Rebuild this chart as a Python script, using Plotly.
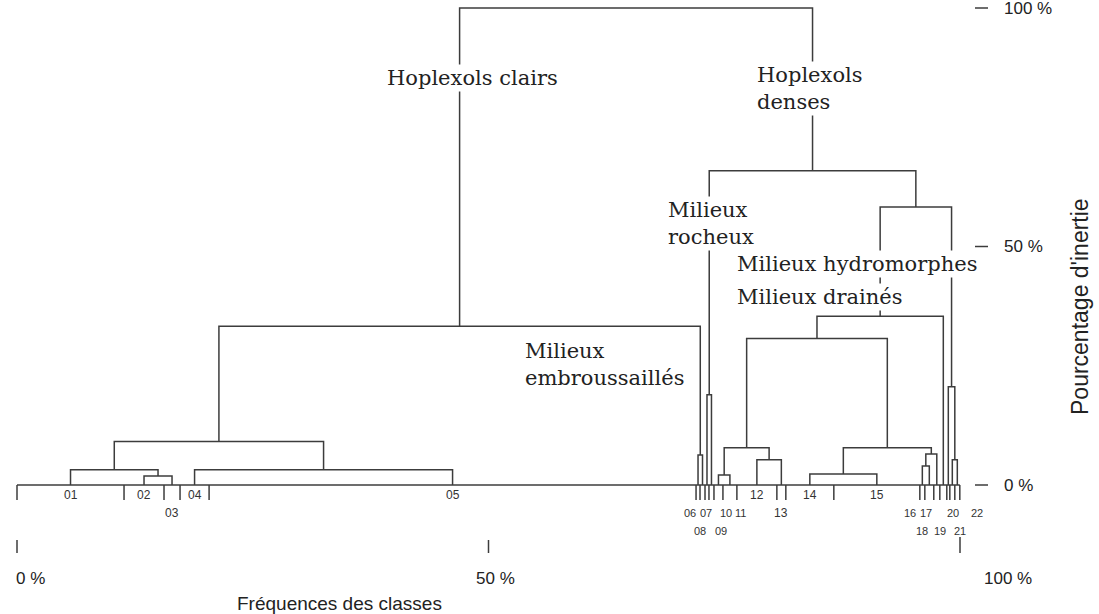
import plotly.graph_objects as go

# ---- data -------------------------------------------------------------
classes = ["01", "02", "03", "04", "05", "06", "07", "08", "09", "10", "11",
           "12", "13", "14", "15", "16", "17", "18", "19", "20", "21", "22"]

# class frequencies (% of the total), in dendrogram order
class_freq = [11.35, 4.24, 1.70, 3.08, 51.64, 0.42, 0.53, 0.42, 0.53, 0.95, 1.48,
              4.24, 0.95, 5.09, 9.12, 0.53, 0.95, 0.64, 0.74, 0.32, 0.53, 0.53]

# agglomeration steps: (member A, member B, inertia %) ; ints refer to earlier steps
merges = [
    ("02", "03", 1.9),
    ("01", 0, 3.2),
    ("04", "05", 3.2),
    (1, 2, 9.1),
    ("06", "07", 6.3),
    (3, 4, 33.3),
    ("08", "09", 18.9),
    ("10", "11", 2.1),
    ("12", "13", 5.3),
    (7, 8, 7.8),
    ("14", "15", 2.3),
    ("16", "17", 4.0),
    (11, "18", 6.5),
    (10, 12, 7.8),
    (9, 13, 30.7),
    (14, "19", 35.4),
    ("21", "22", 5.3),
    ("20", 16, 20.6),
    (15, 17, 58.3),
    (6, 18, 65.9),
    (5, 19, 100.0),
]

group_names = ["Hoplexols clairs", "Hoplexols<br>denses", "Milieux<br>rocheux",
               "Milieux<br>embroussaillés", "Milieux hydromorphes", "Milieux drainés"]

x_ticks = [0, 50, 100]
x_tick_text = ["0 %", "50 %", "100 %"]
y_ticks = [0, 50, 100]
y_tick_text = ["0 %", "50 %", "100 %"]

# ---- page geometry (pixels -> data units) ------------------------------
W, H = 1099, 614
X0_PX, PX_PER_PCT_X = 17.0, 9.43      # 0 % frequency at x=17 px
Y0_PX, PX_PER_PCT_Y = 485.0, 4.77     # 0 % inertia at y=485 px


def dy(px):
    """vertical pixel length -> inertia units"""
    return px / PX_PER_PCT_Y


def at_x(px):
    """absolute page x (px) -> frequency units"""
    return (px - X0_PX) / PX_PER_PCT_X


def at_y(py):
    """absolute page y (px) -> inertia units"""
    return (Y0_PX - py) / PX_PER_PCT_Y


x_range = [at_x(0), at_x(W)]
y_range = [at_y(H), at_y(0)]

LINE = "#3c3c3c"
SERIF = "DejaVu Serif, serif"
SANS = "Liberation Sans, Arial, sans-serif"

# ---- class positions ---------------------------------------------------
bounds = [0.0]
for f in class_freq:
    bounds.append(bounds[-1] + f)
leaf_x = {c: (bounds[i] + bounds[i + 1]) / 2 for i, c in enumerate(classes)}

node_x, node_h = [], []


def pos(m):
    if isinstance(m, str):
        return leaf_x[m], 0.0
    return node_x[m], node_h[m]


xs, ys = [], []
for a, b, h in merges:
    xa, ha = pos(a)
    xb, hb = pos(b)
    xs += [xa, xa, xb, xb, None]
    ys += [ha, h, h, hb, None]
    node_x.append((xa + xb) / 2)
    node_h.append(h)

# baseline and class boundary ticks
xs += [bounds[0], bounds[-1], None]
ys += [0, 0, None]
for bx in bounds:
    xs += [bx, bx, None]
    ys += [0, -dy(15), None]

# frequency axis ticks
for t in x_ticks:
    top = at_y(537) if t == 100 else at_y(540)
    xs += [t, t, None]
    ys += [top, at_y(553), None]

# inertia axis ticks (right side)
for t in y_ticks:
    xs += [at_x(975), at_x(988), None]
    ys += [t, t, None]

fig = go.Figure()
fig.add_trace(go.Scatter(x=xs, y=ys, mode="lines",
                         line=dict(color=LINE, width=1.5),
                         hoverinfo="skip", showlegend=False))

ann = []

# class labels: row under the baseline and horizontal shift (px) for crowded groups
label_row = {"03": 1, "06": 1, "07": 1, "08": 2, "09": 2, "10": 1, "11": 1,
             "13": 1, "16": 1, "17": 1, "18": 2, "19": 2, "20": 1, "21": 2, "22": 1}
label_shift = {"06": -8, "07": 3, "08": -7, "09": 10, "10": 8, "11": 11,
               "16": -12, "17": -3, "18": -15, "19": -3, "20": 5, "21": 8, "22": 20}
for c in classes:
    r = label_row.get(c, 0)
    small = r > 0 and c not in ("03", "13")
    ann.append(dict(x=leaf_x[c], y=-dy(10 + 18 * r), text=c, showarrow=False,
                    xanchor="center", yanchor="middle",
                    xshift=label_shift.get(c, 0),
                    font=dict(family=SANS, size=11 if small else 12, color="#333")))

# group names, drawn on white so the branches pass behind them
grp_pos = [
    (node_x[5], at_y(78), "center", 13),
    (at_x(755), at_y(88), "left", 0),
    (at_x(666), at_y(223), "left", 0),
    (at_x(523), at_y(364), "left", 0),
    (at_x(735), at_y(264), "left", 0),
    (at_x(735), at_y(297), "left", 0),
]
for (gx, gy, anc, sh), name in zip(grp_pos, group_names):
    ann.append(dict(x=gx, y=gy, text=name, showarrow=False, xanchor=anc,
                    xshift=sh, yanchor="middle", align="left",
                    bgcolor="white", borderpad=1,
                    font=dict(family=SERIF, size=21, color="#222")))

# axis labels
for t, txt in zip(x_ticks, x_tick_text):
    ann.append(dict(x=t, y=at_y(578), text=txt, showarrow=False,
                    xanchor="center", yanchor="middle",
                    xshift={0: 13, 50: 7, 100: 48}[t],
                    font=dict(family=SANS, size=17, color="#222")))
for t, txt in zip(y_ticks, y_tick_text):
    ann.append(dict(x=at_x(1002), y=t, text=txt, showarrow=False,
                    xanchor="left", yanchor="middle",
                    font=dict(family=SANS, size=17, color="#222")))

ann.append(dict(x=at_x(339), y=at_y(603), text="Fréquences des classes",
                showarrow=False, xanchor="center", yanchor="middle",
                font=dict(family=SANS, size=19, color="#222")))
ann.append(dict(x=at_x(1080), y=at_y(307), text="Pourcentage d'inertie",
                showarrow=False, textangle=-90, xanchor="center", yanchor="middle",
                font=dict(family=SANS, size=23, color="#222")))

fig.update_layout(
    width=W, height=H, autosize=False,
    margin=dict(l=0, r=0, t=0, b=0),
    paper_bgcolor="white", plot_bgcolor="white",
    xaxis=dict(range=x_range, visible=False, fixedrange=True),
    yaxis=dict(range=y_range, visible=False, fixedrange=True),
    annotations=ann,
)

fig.write_html("out.html")
